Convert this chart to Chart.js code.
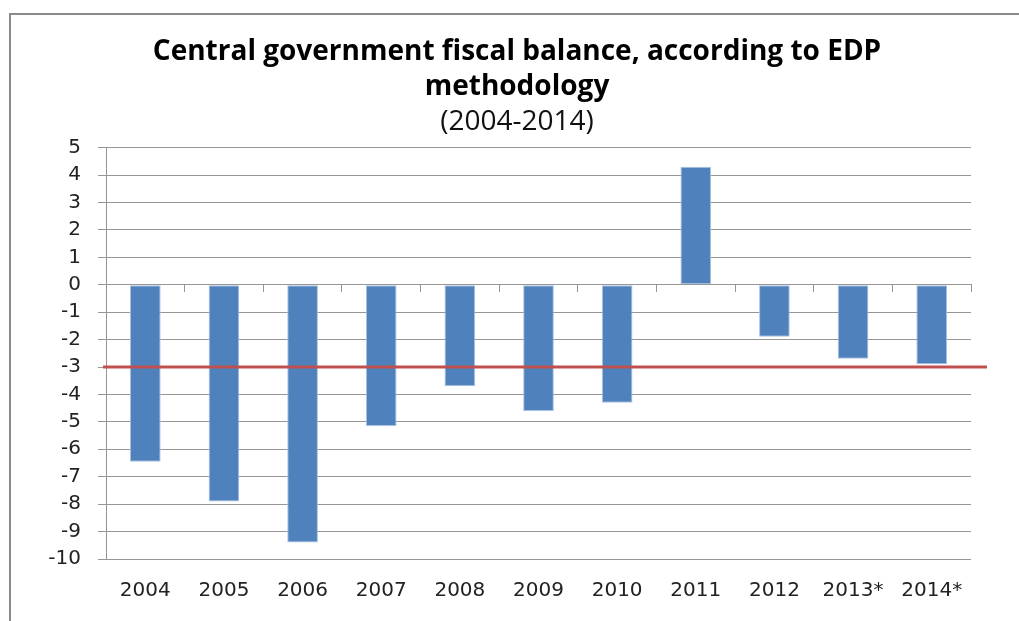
<!DOCTYPE html>
<html lang="en">
<head>
  <meta charset="UTF-8">
  <title>Central government fiscal balance</title>
  <script src="https://cdn.jsdelivr.net/npm/chart.js"></script>
  <style>
    html, body { margin: 0; padding: 0; background: #fff; }
    #wrap { width: 1019px; height: 621px; }
  </style>
</head>
<body>
<div id="wrap"><canvas id="fiscalChart"></canvas></div>

<script>
  const years = ["2004", "2005", "2006", "2007", "2008", "2009", "2010", "2011", "2012", "2013*", "2014*"];
  const balance = [-6.45, -7.9, -9.4, -5.15, -3.7, -4.6, -4.3, 4.3, -1.9, -2.7, -2.9];
  const yTicks = [5, 4, 3, 2, 1, 0, -1, -2, -3, -4, -5, -6, -7, -8, -9, -10];
  const limitLine = -3;

  const gridColor = "#969696";

  // outer chart frame, as in the spreadsheet export
  const framePlugin = {
    id: "frame",
    beforeDraw(chart) {
      const ctx = chart.ctx;
      ctx.save();
      ctx.strokeStyle = "#8a8a8a";
      ctx.lineWidth = 2;
      ctx.strokeRect(10, 14, chart.width + 50, chart.height + 50);
      ctx.restore();
    }
  };

  // the -3 reference line, runs a little past the plot on the right
  const limitPlugin = {
    id: "limit",
    afterDatasetsDraw(chart) {
      const y = chart.scales.y.getPixelForValue(limitLine);
      const ctx = chart.ctx;
      ctx.save();
      ctx.strokeStyle = "#C0504D";
      ctx.lineWidth = 3;
      ctx.beginPath();
      ctx.moveTo(chart.chartArea.left - 3, y);
      ctx.lineTo(chart.chartArea.right + 16, y);
      ctx.stroke();
      ctx.restore();
    }
  };

  new Chart(document.getElementById("fiscalChart"), {
    type: "bar",
    data: {
      labels: years,
      datasets: [{
        data: balance,
        backgroundColor: "#4F81BD",
        borderColor: "#a9c1e0",
        borderWidth: 1,
        borderSkipped: false,
        barPercentage: 0.39,
        categoryPercentage: 1
      }]
    },
    options: {
      responsive: true,
      maintainAspectRatio: false,
      animation: false,
      layout: { padding: { left: 15, right: 0, top: 0, bottom: 0 } },
      plugins: {
        legend: { display: false },
        tooltip: { enabled: false },
        title: {
          display: true,
          text: ["Central government fiscal balance, according to EDP", "methodology"],
          color: "#000",
          font: { family: "Open Sans", size: 28, weight: "bold", lineHeight: 1.25 },
          padding: { top: 35, bottom: 0 }
        },
        subtitle: {
          display: true,
          text: "(2004-2014)",
          color: "#111",
          font: { family: "Open Sans", size: 28, weight: "normal", lineHeight: 1.2 },
          padding: { top: 0, bottom: 9 }
        }
      },
      scales: {
        x: {
          position: "bottom",
          grid: { display: false },
          border: { display: false },
          ticks: {
            color: "#222",
            font: { family: "DejaVu Sans", size: 20 },
            padding: 12,
            maxRotation: 0,
            autoSkip: false
          },
          afterFit(s) { s.height = 62; }
        },
        xZero: {
          type: "category",
          labels: years,
          position: { y: 0 },
          grid: { offset: true, drawOnChartArea: false, tickLength: 7, color: gridColor },
          border: { display: true, color: gridColor },
          ticks: { display: false }
        },
        y: {
          min: -10,
          max: 5,
          afterBuildTicks(s) { s.ticks = yTicks.map(v => ({ value: v })); },
          grid: { color: gridColor, tickLength: 8 },
          border: { display: true, color: gridColor },
          ticks: {
            color: "#222",
            font: { family: "DejaVu Sans", size: 20 },
            padding: 17
          },
          afterFit(s) { s.width = 91; }
        },
        yRight: {
          position: "right",
          display: true,
          grid: { display: false },
          border: { display: false },
          ticks: { display: false },
          afterFit(s) { s.width = 48; }
        }
      }
    },
    plugins: [framePlugin, limitPlugin]
  });
</script>
</body>
</html>
